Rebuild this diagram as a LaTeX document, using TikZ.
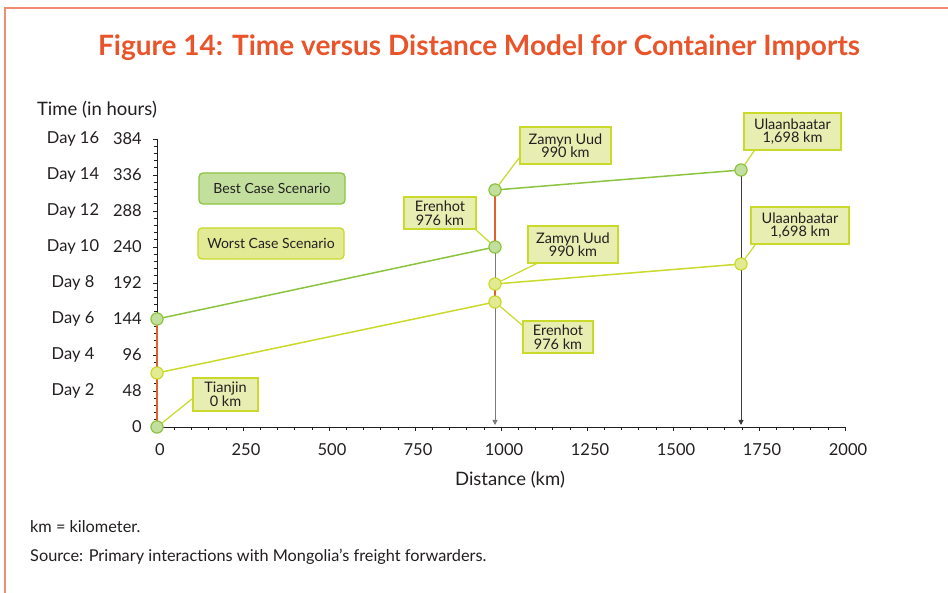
\documentclass[tikz,border=0pt]{standalone}
\usepackage{fontspec}
\setmainfont{Lato}
\usetikzlibrary{arrows.meta}

\definecolor{titlered}{HTML}{E9542B}
\definecolor{framepink}{HTML}{F08C73}
\definecolor{inkdark}{HTML}{231F20}
\definecolor{bestline}{HTML}{8CC43F}
\definecolor{bestfill}{HTML}{C3DF9E}
\definecolor{worstline}{HTML}{C9DA2A}
\definecolor{worstfill}{HTML}{E3EB92}
\definecolor{calloutfill}{HTML}{E8EEB2}
\definecolor{legworstfill}{HTML}{E2EA96}
\definecolor{transfer}{HTML}{E0602B}
\definecolor{dropgray}{HTML}{7A7A7A}
\definecolor{dropdark}{HTML}{3C3C3C}

\tikzset{
  bestpt/.style={circle, draw=bestline, fill=bestfill, line width=1pt, minimum size=12pt, inner sep=0pt},
  worstpt/.style={circle, draw=worstline, fill=worstfill, line width=1pt, minimum size=12pt, inner sep=0pt},
  bestseg/.style={draw=bestline, line width=1.5pt},
  worstseg/.style={draw=worstline, line width=1.5pt},
  transferseg/.style={draw=transfer, line width=2pt},
  leader/.style={draw=worstline, line width=1.2pt},
  callout/.style={draw=worstline, fill=calloutfill, line width=1.5pt, align=center,
    font=\fontsize{14.5}{13.5}\selectfont, text=inkdark, inner sep=0pt},
  legendbox/.style={rounded corners=4pt, line width=1.3pt, text=inkdark,
    font=\fontsize{14}{15}\selectfont, inner sep=0pt, minimum height=31pt},
  axislbl/.style={text=inkdark, font=\fontsize{18.5}{20}\selectfont, inner sep=0pt},
  ticklbl/.style={text=inkdark, font=\fontsize{16.5}{18}\selectfont, inner sep=0pt},
  note/.style={text=inkdark, font=\fontsize{16.3}{18}\selectfont, inner sep=0pt, anchor=west},
}

\begin{document}
\begin{tikzpicture}[x=1pt, y=-1pt]
\useasboundingbox (0,0) rectangle (948,593);
\fill[white] (0,0) rectangle (948,593);

% page frame
\draw[framepink, line width=1.6pt] (5,600) -- (5,8) -- (960,8);

% title
\node[text=titlered, font=\fontsize{28}{30}\selectfont\bfseries] (title) at (479,48)
  {Figure 14: Time versus Distance Model for Container Imports};

% axes
\coordinate (origin) at (157,427);
\coordinate (xend) at (845,427);
\coordinate (yend) at (157,139);
\draw[inkdark, line width=0.8pt] (yend) -- (origin) -- (xend);

% x ticks every 50 km, labels every 250 km
\foreach \i in {0,...,40}{
  \pgfmathsetmacro{\xx}{157+\i*17.2}
  \pgfmathtruncatemacro{\maj}{mod(\i,5)==0 ? 1 : 0}
  \ifnum\maj=1
    \draw[inkdark, line width=0.8pt] (\xx,427) -- (\xx,431);
  \else
    \draw[inkdark, line width=0.6pt] (\xx,427) -- (\xx,430);
  \fi
}
\foreach \v/\k in {0/0,250/1,500/2,750/3,1000/4,1250/5,1500/6,1750/7,2000/8}{
  \node[ticklbl] (xl\k) at (160+\k*86,450) {\v};
}
\node[axislbl] (xtitle) at (510,480) {Distance (km)};

% y ticks every 9.6 h, labels every 48 h
\foreach \i in {0,...,40}{
  \pgfmathsetmacro{\yy}{427-\i*7.2}
  \pgfmathtruncatemacro{\maj}{mod(\i,5)==0 ? 1 : 0}
  \ifnum\maj=1
    \draw[inkdark, line width=0.8pt] (157,\yy) -- (152.5,\yy);
  \else
    \draw[inkdark, line width=0.6pt] (157,\yy) -- (154,\yy);
  \fi
}
\foreach \h/\d/\k in {0//0,48/Day 2/1,96/Day 4/2,144/Day 6/3,192/Day 8/4,240/Day 10/5,288/Day 12/6,336/Day 14/7,384/Day 16/8}{
  \node[ticklbl, anchor=east] (yl\k) at (142,427-\k*36) {\h};
  \node[ticklbl] (yd\k) at (73,427-\k*36) {\d};
}
\node[axislbl] (ytitle) at (97,110) {Time (in hours)};

% data points
\node[bestpt]  (bT0) at (157,427) {};
\node[bestpt]  (bT)  at (157,319) {};
\node[bestpt]  (bE)  at (495,247) {};
\node[bestpt]  (bZ)  at (495,190) {};
\node[bestpt]  (bU)  at (741,170) {};
\node[worstpt] (wT)  at (157,373) {};
\node[worstpt] (wE)  at (495,302) {};
\node[worstpt] (wZ)  at (495,284) {};
\node[worstpt] (wU)  at (741,264) {};

% drop lines to the distance axis
\coordinate (dropE) at (495,425);
\coordinate (dropU) at (741,425);
\draw[dropgray, line width=0.9pt, -{Triangle[length=5pt,width=5pt]}] (bZ.center) -- (dropE);
\draw[dropdark, line width=0.9pt, -{Triangle[length=5pt,width=5pt]}] (bU.center) -- (dropU);

% waiting time at the border crossings
\draw[transferseg] (bT0.center) -- (bT.center);
\draw[transferseg] (bE.center) -- (bZ.center);
\draw[transferseg] (wE.center) -- (wZ.center);

% travel legs
\draw[bestseg]  (bT.center) -- (bE.center);
\draw[bestseg]  (bZ.center) -- (bU.center);
\draw[worstseg] (wT.center) -- (wE.center);
\draw[worstseg] (wZ.center) -- (wU.center);

% callouts
\node[callout, minimum width=65pt, minimum height=33pt] (cT)  at (225.5,394.5) {Tianjin\\0 km};
\node[callout, minimum width=72pt, minimum height=32pt] (cbE) at (440,213) {Erenhot\\976 km};
\node[callout, minimum width=91pt, minimum height=37pt] (cbZ) at (565.5,145.5) {Zamyn Uud\\990 km};
\node[callout, minimum width=90pt, minimum height=37pt] (cwZ) at (573,244.5) {Zamyn Uud\\990 km};
\node[callout, minimum width=70pt, minimum height=32pt] (cwE) at (558,337) {Erenhot\\976 km};
\node[callout, minimum width=97pt, minimum height=37pt] (cbU) at (792.5,131.5) {Ulaanbaatar\\1,698 km};
\node[callout, minimum width=98pt, minimum height=37pt] (cwU) at (800,225.5) {Ulaanbaatar\\1,698 km};

\draw[leader] (bT0) -- ([yshift=13pt]cT.south west);
\draw[leader] (bE) -- ([xshift=-1pt]cbE.south east);
\draw[leader] (bZ) -- ([yshift=7pt]cbZ.south west);
\draw[leader] (wZ) -- ([xshift=9pt]cwZ.south west);
\draw[leader] (wE) -- ([yshift=-5pt]cwE.north west);
\draw[leader] (bU) -- ([xshift=11pt]cbU.south west);
\draw[leader] (wU) -- ([xshift=5pt]cwU.south west);

% redraw the points above the leaders
\foreach \n in {bT0,bT,bE,bZ,bU}{\node[bestpt] at (\n) {};}
\foreach \n in {wT,wE,wZ,wU}{\node[worstpt] at (\n) {};}

% legend
\node[legendbox, draw=bestline, fill=bestfill, minimum width=146pt] (legBest) at (272,188.5) {Best Case Scenario};
\node[legendbox, draw=worstline, fill=legworstfill, minimum width=146pt] (legWorst) at (271,243.5) {Worst Case Scenario};

% notes
\node[note] (abbr) at (30,527) {km = kilometer.};
\node[note] (src) at (30,557) {Source: Primary interactions with Mongolia’s freight forwarders.};
\end{tikzpicture}
\end{document}
